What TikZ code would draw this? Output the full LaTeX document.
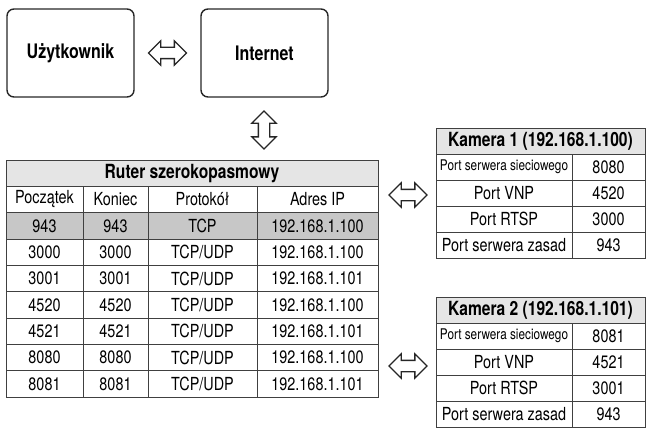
\documentclass[tikz,border=0pt]{standalone}
\usepackage{fontspec}
\setmainfont{TeX Gyre Heros}[FakeStretch=0.8]
\usetikzlibrary{shapes.arrows}

\newcommand\narrowtext{\fontsize{14.7}{15}\selectfont}

\tikzset{
  box/.style={draw=black!85, line width=1.4pt, rounded corners=7pt,
    minimum width=127pt, minimum height=88pt,
    font=\fontsize{20}{20}\selectfont\bfseries},
  cell/.style={draw=black!75, line width=0.9pt, inner sep=0pt,
    font=\fontsize{18}{18}\selectfont},
  headcell/.style={cell, fill=black!10, font=\fontsize{19.5}{20}\selectfont\bfseries},
  dbl/.style={double arrow, draw=black!85, line width=1.3pt, inner sep=5pt,
    double arrow head extend=6.5pt, minimum height=38pt},
}

\begin{document}
\begin{tikzpicture}[x=1pt,y=-1pt]
\useasboundingbox (0,0) rectangle (647,428);

% user and internet
\node[box] (user) at (70.5,53) {Użytkownik};
\node[box] (net) at (264.5,53) {Internet};
\node[dbl] (usernet) at (167.5,53) {};
\node[dbl, rotate=90] (netrouter) at (264,130) {};

% router table
\fill[black!22] (6,212.66) rectangle (378,239);
\node[headcell, minimum width=372pt, minimum height=26.33pt] (rhead) at (192,173.17) {Ruter szerokopasmowy};
\foreach \a/\b/\c/\d [count=\i] in {Początek/Koniec/Protokół/Adres IP,
    943/943/TCP/192.168.1.100,
    3000/3000/{TCP/UDP}/192.168.1.100,
    3001/3001/{TCP/UDP}/192.168.1.101,
    4520/4520/{TCP/UDP}/192.168.1.100,
    4521/4521/{TCP/UDP}/192.168.1.101,
    8080/8080/{TCP/UDP}/192.168.1.100,
    8081/8081/{TCP/UDP}/192.168.1.101}{
  \node[cell, minimum width=77pt, minimum height=26.33pt] (r\i a) at (44.5,{160+26.33*\i+13.17}) {\a};
  \node[cell, minimum width=65pt, minimum height=26.33pt] (r\i b) at (115.5,{160+26.33*\i+13.17}) {\b};
  \node[cell, minimum width=109pt, minimum height=26.33pt] (r\i c) at (202.5,{160+26.33*\i+13.17}) {\c};
  \node[cell, minimum width=121pt, minimum height=26.33pt] (r\i d) at (317.5,{160+26.33*\i+13.17}) {\d};
}

% camera 1
\node[dbl] (routercam1) at (408,195) {};
\node[headcell, minimum width=209pt, minimum height=26pt] (k1head) at (540.5,141) {Kamera 1 (192.168.1.100)};
\foreach \p/\v [count=\i] in {{\narrowtext Port serwera sieciowego}/8080, Port VNP/4520,
    Port RTSP/3000, Port serwera zasad/943}{
  \node[cell, minimum width=136pt, minimum height=26pt] (k1\i a) at (504,{128+26*\i+13}) {\p};
  \node[cell, minimum width=73pt, minimum height=26pt] (k1\i b) at (608.5,{128+26*\i+13}) {\v};
}

% camera 2
\node[dbl] (routercam2) at (408,366) {};
\node[headcell, minimum width=209pt, minimum height=26pt] (k2head) at (540.5,310) {Kamera 2 (192.168.1.101)};
\foreach \p/\v [count=\i] in {{\narrowtext Port serwera sieciowego}/8081, Port VNP/4521,
    Port RTSP/3001, Port serwera zasad/943}{
  \node[cell, minimum width=136pt, minimum height=26pt] (k2\i a) at (504,{297+26*\i+13}) {\p};
  \node[cell, minimum width=73pt, minimum height=26pt] (k2\i b) at (608.5,{297+26*\i+13}) {\v};
}
\end{tikzpicture}
\end{document}
